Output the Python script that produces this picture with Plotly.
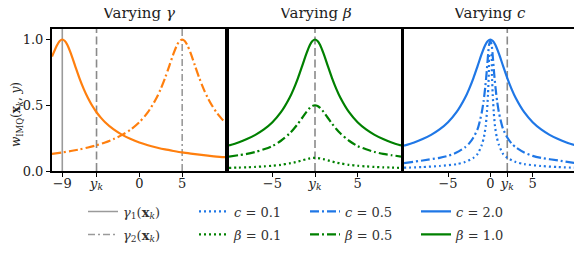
import plotly.graph_objects as go

# ---------------- data ----------------
# Panel 1: varying gamma (centres gamma1 = -9, gamma2 = 5, y_k = -5)
GAMMA1 = -9.0
GAMMA2 = 5.0
YK_P1 = -5.0
g1_x = [-10.2, -9.6, -9.3, -9.0, -8.7, -8.4, -8.0, -7.5, -7.0, -6.5, -6.0, -5.5, -5.0, -4.5,
        -4.0, -3.0, -2.0, -1.0, 0.0, 1.0, 2.0, 3.0, 4.0, 5.0, 6.0, 7.0, 8.0, 9.0, 10.0]
g1_w = [0.87, 0.958, 0.989, 1.0, 0.989, 0.958, 0.894, 0.80, 0.707, 0.625, 0.555, 0.496, 0.447, 0.406,
        0.371, 0.316, 0.275, 0.243, 0.217, 0.196, 0.179, 0.164, 0.152, 0.141, 0.132, 0.124, 0.117, 0.110, 0.105]
g2_x = [-10.2, -9.0, -8.0, -7.0, -6.0, -5.0, -4.0, -3.0, -2.0, -1.0, 0.0, 1.0, 2.0, 2.5, 3.0, 3.5,
        4.0, 4.4, 4.7, 5.0, 5.3, 5.6, 6.0, 6.5, 7.0, 7.5, 8.0, 8.5, 9.0, 9.5, 10.0]
g2_w = [0.13, 0.141, 0.152, 0.164, 0.179, 0.196, 0.217, 0.243, 0.275, 0.316, 0.371, 0.447, 0.555, 0.625,
        0.707, 0.80, 0.894, 0.958, 0.989, 1.0, 0.989, 0.958, 0.894, 0.80, 0.707, 0.625, 0.555, 0.496,
        0.447, 0.406, 0.371]

# Panel 2: varying beta (y_k = 0)
YK_P2 = 0.0
beta_x = [-10.1, -9, -8, -7, -6, -5, -4, -3, -2.5, -2, -1.5, -1, -0.6, -0.3, 0,
          0.3, 0.6, 1, 1.5, 2, 2.5, 3, 4, 5, 6, 7, 8, 9, 10.1]
beta10_w = [0.194, 0.217, 0.243, 0.275, 0.316, 0.371, 0.447, 0.555, 0.625, 0.707, 0.80, 0.894, 0.958, 0.989, 1.0,
            0.989, 0.958, 0.894, 0.80, 0.707, 0.625, 0.555, 0.447, 0.371, 0.316, 0.275, 0.243, 0.217, 0.194]
beta05_w = [0.11, 0.12, 0.13, 0.145, 0.165, 0.19, 0.23, 0.285, 0.32, 0.36, 0.405, 0.45, 0.48, 0.495, 0.5,
            0.495, 0.48, 0.45, 0.405, 0.36, 0.32, 0.285, 0.23, 0.19, 0.165, 0.145, 0.13, 0.12, 0.11]
beta01_w = [0.024, 0.026, 0.028, 0.031, 0.035, 0.040, 0.047, 0.058, 0.064, 0.072, 0.081, 0.09, 0.096, 0.099, 0.1,
            0.099, 0.096, 0.09, 0.081, 0.072, 0.064, 0.058, 0.047, 0.040, 0.035, 0.031, 0.028, 0.026, 0.024]

# Panel 3: varying c (centre 0, y_k = 2)
YK_P3 = 2.0
c20_x = [-10.2, -9, -8, -7, -6, -5, -4, -3, -2.5, -2, -1.5, -1, -0.6, -0.3, 0,
         0.3, 0.6, 1, 1.5, 2, 2.5, 3, 4, 5, 6, 7, 8, 9, 10]
c20_w = [0.192, 0.217, 0.243, 0.275, 0.316, 0.371, 0.447, 0.555, 0.625, 0.707, 0.80, 0.894, 0.958, 0.989, 1.0,
         0.989, 0.958, 0.894, 0.80, 0.707, 0.625, 0.555, 0.447, 0.371, 0.316, 0.275, 0.243, 0.217, 0.196]
c05_x = [-10.2, -8, -6, -5, -4, -3, -2.5, -2, -1.5, -1.2, -1, -0.8, -0.6, -0.45, -0.3, -0.15, 0,
         0.15, 0.3, 0.45, 0.6, 0.8, 1, 1.2, 1.5, 2, 2.5, 3, 4, 5, 6, 8, 10]
c05_w = [0.06, 0.08, 0.10, 0.115, 0.14, 0.18, 0.21, 0.255, 0.32, 0.39, 0.45, 0.53, 0.64, 0.74, 0.86, 0.96, 0.99,
         0.96, 0.86, 0.74, 0.64, 0.53, 0.45, 0.39, 0.32, 0.255, 0.21, 0.18, 0.14, 0.115, 0.10, 0.08, 0.06]
c01_x = [-10.2, -8, -6, -4, -3, -2, -1.5, -1.0, -0.75, -0.55, -0.4, -0.28, -0.18, -0.1,
         0.1, 0.18, 0.28, 0.4, 0.55, 0.75, 1.0, 1.5, 2, 3, 4, 6, 8, 10]
c01_w = [0.025, 0.03, 0.038, 0.052, 0.068, 0.1, 0.13, 0.2, 0.26, 0.34, 0.45, 0.58, 0.74, 0.89,
         0.89, 0.74, 0.58, 0.45, 0.34, 0.26, 0.2, 0.13, 0.1, 0.068, 0.052, 0.038, 0.03, 0.025]

# axes / ticks
Y_RANGE = [0, 1.08]
X_RANGES = [[-10.2, 10.0], [-10.1, 10.1], [-10.2, 10.0]]
TICKS_P1 = [-9, -5, 0, 5]
TICKTEXT_P1 = ["\u22129", "<i>y</i><sub><i>k</i></sub>", "0", "5"]
TICKS_P2 = [-5, 0, 5]
TICKTEXT_P2 = ["\u22125", "<i>y</i><sub><i>k</i></sub>", "5"]
TICKS_P3 = [-5, 0, 2, 5]
TICKTEXT_P3 = ["\u22125", "0", "<i>y</i><sub><i>k</i></sub>", "5"]
Y_TICKS = [0, 0.5, 1.0]
Y_TICKTEXT = ["0.0", "0.5", "1.0"]
Y_TITLE = "<i>w</i><sub>IMQ</sub>(<b>x</b><sub><i>k</i></sub>, <i>y</i>)"
TITLES = ["Varying <i>\u03b3</i>", "Varying <i>\u03b2</i>", "Varying <i>c</i>"]

# ---------------- styling ----------------
ORANGE = "#ff7f0e"
GREEN = "#008000"
BLUE = "#1f77e6"
GRAY = "#9a9a9a"
YKGRAY = "#8a8a8a"
FONT = "DejaVu Serif"
DOT = "2px,3px"
DASHDOT = "9px,3px,2px,3px"
DASH = "8px,3.5px"
LW = 2.2

fig = go.Figure()

fig.add_trace(go.Scatter(x=[GAMMA1, GAMMA1], y=Y_RANGE, mode="lines", xaxis="x", yaxis="y",
                         line=dict(color=GRAY, width=1.6), name="<i>\u03b3</i><sub>1</sub>(<b>x</b><sub><i>k</i></sub>)",
                         legend="legend"))
fig.add_trace(go.Scatter(x=[GAMMA2, GAMMA2], y=Y_RANGE, mode="lines", xaxis="x", yaxis="y",
                         line=dict(color=GRAY, width=1.6, dash="7px,3px,2px,3px"),
                         name="<i>\u03b3</i><sub>2</sub>(<b>x</b><sub><i>k</i></sub>)", legend="legend2"))

for xa, ya, v in [("x", "y", YK_P1), ("x2", "y2", YK_P2), ("x3", "y3", YK_P3)]:
    fig.add_trace(go.Scatter(x=[v, v], y=Y_RANGE, mode="lines", xaxis=xa, yaxis=ya,
                             line=dict(color=YKGRAY, width=1.6, dash=DASH), showlegend=False,
                             hoverinfo="skip"))

fig.add_trace(go.Scatter(x=g1_x, y=g1_w, mode="lines", xaxis="x", yaxis="y", showlegend=False,
                         line=dict(color=ORANGE, width=LW, shape="spline", smoothing=0.8)))
fig.add_trace(go.Scatter(x=g2_x, y=g2_w, mode="lines", xaxis="x", yaxis="y", showlegend=False,
                         line=dict(color=ORANGE, width=LW, dash=DASHDOT, shape="spline", smoothing=0.8)))

fig.add_trace(go.Scatter(x=c01_x, y=c01_w, mode="lines", xaxis="x3", yaxis="y3", name="<i>c</i> = 0.1",
                         legend="legend", line=dict(color=BLUE, width=LW, dash=DOT, shape="spline", smoothing=0.6)))
fig.add_trace(go.Scatter(x=c05_x, y=c05_w, mode="lines", xaxis="x3", yaxis="y3", name="<i>c</i> = 0.5",
                         legend="legend", line=dict(color=BLUE, width=LW, dash=DASHDOT, shape="spline", smoothing=0.6)))
fig.add_trace(go.Scatter(x=c20_x, y=c20_w, mode="lines", xaxis="x3", yaxis="y3", name="<i>c</i> = 2.0",
                         legend="legend", line=dict(color=BLUE, width=LW, shape="spline", smoothing=0.8)))

fig.add_trace(go.Scatter(x=beta_x, y=beta01_w, mode="lines", xaxis="x2", yaxis="y2", name="<i>\u03b2</i> = 0.1",
                         legend="legend2", line=dict(color=GREEN, width=LW, dash=DOT, shape="spline", smoothing=0.8)))
fig.add_trace(go.Scatter(x=beta_x, y=beta05_w, mode="lines", xaxis="x2", yaxis="y2", name="<i>\u03b2</i> = 0.5",
                         legend="legend2", line=dict(color=GREEN, width=LW, dash=DASHDOT, shape="spline", smoothing=0.8)))
fig.add_trace(go.Scatter(x=beta_x, y=beta10_w, mode="lines", xaxis="x2", yaxis="y2", name="<i>\u03b2</i> = 1.0",
                         legend="legend2", line=dict(color=GREEN, width=LW, shape="spline", smoothing=0.8)))

# page coordinates (the browser body has an 8px margin)
OFF = 8
PAGE_W, PAGE_H = 582, 255
W, H = PAGE_W - OFF, PAGE_H - OFF
PLOT_L, PLOT_R, PLOT_T, PLOT_B = 52, 575, 29, 171      # page px
ML, MT = PLOT_L - OFF, PLOT_T - OFF
MR, MB = PAGE_W - PLOT_R, PAGE_H - PLOT_B
PW = PLOT_R - PLOT_L
PH = PLOT_B - PLOT_T


def px_x(p):   # page px -> paper x
    return (p - PLOT_L) / PW


def px_y(p):   # page px -> paper y
    return (PLOT_B - p) / PH


px_domains = [(52, 225), (229, 401), (404, 575)]
domains = [[px_x(a), px_x(b)] for a, b in px_domains]

tickfont = dict(family=FONT, size=13, color="#222")
common_x = dict(showline=True, linewidth=2, linecolor="black", mirror=True, ticks="outside",
                ticklen=4, tickwidth=1, tickcolor="black", showgrid=False, zeroline=False,
                tickfont=tickfont, fixedrange=True, ticklabelstandoff=-5)
common_y = dict(showline=True, linewidth=2, linecolor="black", mirror=True, showgrid=False,
                zeroline=False, range=Y_RANGE, fixedrange=True, tickfont=tickfont)

legfont = dict(family=FONT, size=13, color="#333")
layout = dict(
    width=W, height=H, margin=dict(l=ML, r=MR, t=MT, b=MB, autoexpand=False),
    paper_bgcolor="white", plot_bgcolor="white",
    font=dict(family=FONT, size=13, color="#222"),
    xaxis=dict(domain=domains[0], range=X_RANGES[0], tickvals=TICKS_P1, ticktext=TICKTEXT_P1, anchor="y", **common_x),
    xaxis2=dict(domain=domains[1], range=X_RANGES[1], tickvals=TICKS_P2, ticktext=TICKTEXT_P2, anchor="y2", **common_x),
    xaxis3=dict(domain=domains[2], range=X_RANGES[2], tickvals=TICKS_P3, ticktext=TICKTEXT_P3, anchor="y3", **common_x),
    yaxis=dict(domain=[0, 1], anchor="x", tickvals=Y_TICKS, ticktext=Y_TICKTEXT, ticks="outside",
               ticklen=4, tickwidth=1, tickcolor="black", **common_y),
    yaxis2=dict(domain=[0, 1], anchor="x2", showticklabels=False, ticks="", **common_y),
    yaxis3=dict(domain=[0, 1], anchor="x3", showticklabels=False, ticks="", **common_y),
    legend=dict(orientation="h", x=px_x(83), xanchor="left", y=px_y(211.5), yanchor="middle",
                entrywidth=66, entrywidthmode="pixels", bgcolor="rgba(0,0,0,0)",
                font=legfont, tracegroupgap=0, itemwidth=30),
    legend2=dict(orientation="h", x=px_x(83), xanchor="left", y=px_y(234.5), yanchor="middle",
                 entrywidth=66, entrywidthmode="pixels", bgcolor="rgba(0,0,0,0)",
                 font=legfont, tracegroupgap=0, itemwidth=30),
    showlegend=True,
)
fig.update_layout(**layout)

annotations = []
for d, t in zip(domains, TITLES):
    annotations.append(dict(text=t, x=(d[0] + d[1]) / 2, y=px_y(13), xref="paper", yref="paper",
                            showarrow=False, xanchor="center", yanchor="middle",
                            font=dict(family=FONT, size=15, color="#222")))
annotations.append(dict(text=Y_TITLE, x=px_x(17), y=px_y(115), xref="paper", yref="paper",
                        showarrow=False, textangle=-90, xanchor="center", yanchor="middle",
                        font=dict(family=FONT, size=12, color="#222")))
fig.update_layout(annotations=annotations)

fig.write_html("out.html")
